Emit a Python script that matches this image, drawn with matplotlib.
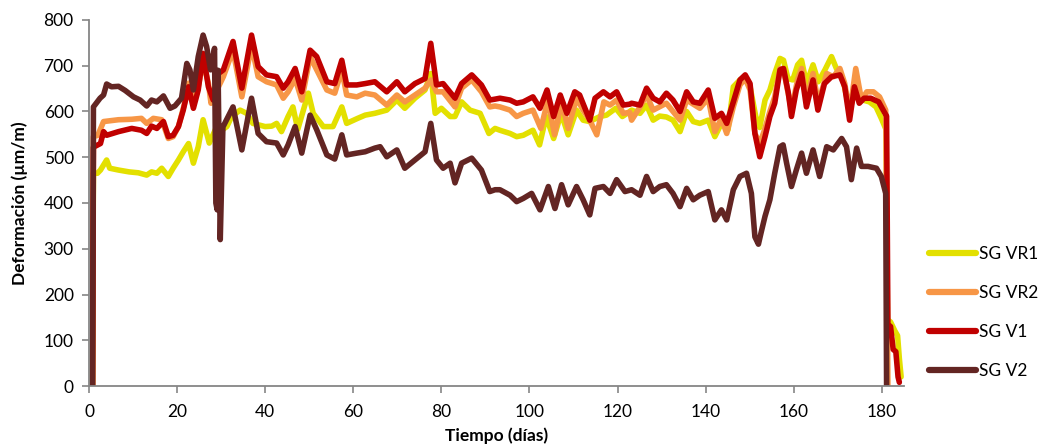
import matplotlib
matplotlib.use("Agg")
import matplotlib.pyplot as plt

plt.rcParams['font.family'] = ['Lato', 'DejaVu Sans']

# Strain gauge readings (µm/m) against time (days)
vr1_days = [0.8, 1.0, 1.9, 2.6, 4.0, 4.7, 6.7, 9.1, 11.2, 13.1, 14.2, 15.4, 16.5, 18.0, 19.1, 20.3,
            21.4, 22.6, 23.7, 24.8, 25.9, 27.3, 29.0, 30.1, 31.3, 32.4, 34.3, 35.8, 37.2, 40.0, 41.5,
            42.6, 43.7, 45.2, 46.3, 47.4, 49.8, 50.9, 53.2, 55.4, 57.4, 58.5, 61.0, 62.7, 64.9, 67.6,
            69.9, 71.7, 74.0, 76.3, 77.6, 78.6, 80.0, 82.0, 83.1, 84.6, 86.5, 88.8, 90.8, 92.2, 93.3,
            95.6, 97.1, 98.6, 100.8, 102.3, 103.8, 105.5, 107.2, 108.8, 110.7, 112.2, 113.7, 116.0,
            117.5, 119.6, 121.1, 122.5, 123.2, 125.1, 126.6, 128.1, 129.6, 131.1, 132.6, 134.2, 135.7,
            137.2, 138.7, 140.6, 142.1, 143.6, 145.1, 146.3, 147.8, 149.0, 150.1, 151.4, 152.3, 153.5,
            154.6, 155.7, 156.9, 157.7, 158.7, 159.8, 160.9, 161.8, 162.9, 164.4, 165.6, 167.1, 168.6,
            169.7, 171.2, 172.7, 174.2, 175.7, 177.2, 178.7, 179.9, 181.0, 181.3, 182.0, 183.0, 183.6,
            184.0, 184.4]
vr1_vals = [0, 465, 465, 472, 494, 476, 472, 468, 466, 461, 468, 465, 476, 458, 476, 494,
            512, 530, 487, 523, 582, 531, 567, 559, 567, 589, 603, 596, 574, 567, 568,
            574, 556, 589, 610, 561, 640, 596, 567, 567, 610, 574, 585, 592, 596, 603,
            625, 607, 629, 647, 683, 596, 607, 589, 589, 621, 603, 596, 552, 563, 559,
            552, 545, 548, 559, 527, 589, 541, 596, 549, 603, 581, 578, 589,
            592, 607, 589, 598, 603, 596, 614, 581, 590, 588, 581, 556, 600,
            578, 574, 581, 545, 574, 560, 654, 669, 676, 654, 589, 565, 625,
            647, 683, 716, 712, 672, 669, 702, 712, 661, 702, 665, 691, 720,
            694, 669, 603, 654, 625, 621, 610, 585, 560, 145, 140, 120, 110,
            60, 20]

vr2_days = [0.8, 1.0, 2.0, 3.3, 6.7, 9.7, 11.9, 13.1, 14.6, 16.5, 18.0, 19.1, 20.3, 21.7, 22.6,
            23.7, 24.8, 25.9, 27.1, 27.7, 28.5, 29.2, 30.5, 32.7, 34.7, 36.9, 38.4, 40.3, 42.6, 44.1,
            45.2, 46.8, 48.3, 50.2, 51.7, 54.0, 55.8, 57.4, 58.5, 60.8, 62.7, 64.9, 67.6, 69.9, 71.7,
            74.0, 76.3, 77.6, 78.9, 80.4, 83.1, 84.6, 86.9, 89.1, 91.0, 92.2, 93.3, 95.6, 97.1, 98.6,
            100.8, 102.6, 104.2, 105.7, 107.3, 108.8, 110.7, 112.2, 113.7, 115.3, 116.9, 118.3, 119.8,
            121.3, 122.8, 123.2, 125.1, 126.6, 128.1, 131.1, 134.2, 135.7, 138.7, 140.6, 142.1, 143.6,
            144.8, 146.3, 147.8, 149.0, 150.1, 151.2, 152.3, 153.4, 154.6, 155.7, 156.9, 157.7, 159.5,
            160.9, 161.8, 162.9, 164.4, 165.6, 167.5, 169.0, 170.5, 171.6, 172.7, 174.1, 175.4, 176.6,
            178.1, 179.5, 180.9, 181.4]
vr2_vals = [0, 545, 548, 578, 582, 583, 585, 574, 585, 582, 541, 545, 567, 618, 662,
            618, 654, 709, 662, 618, 650, 650, 676, 734, 632, 745, 676, 665, 658, 629,
            643, 672, 625, 720, 691, 647, 640, 691, 636, 632, 640, 636, 614, 636, 621,
            636, 651, 669, 643, 643, 610, 651, 669, 643, 610, 612, 610, 603, 589, 596,
            603, 563, 625, 549, 621, 563, 629, 603, 581, 549, 621, 614, 625,
            596, 598, 581, 610, 636, 603, 618, 581, 625, 607, 629, 556, 585,
            552, 610, 658, 672, 647, 552, 530, 560, 600, 632, 694, 691, 603,
            670, 694, 625, 683, 618, 683, 676, 694, 661, 596, 694, 625, 643,
            643, 632, 603, 0]

v1_days = [0.8, 1.0, 2.6, 3.3, 4.0, 6.7, 9.7, 11.9, 13.1, 14.2, 15.4, 16.9, 18.0, 19.1, 20.3,
           21.4, 22.6, 23.7, 24.8, 25.9, 27.1, 28.2, 29.4, 30.5, 32.7, 34.7, 36.9, 38.4, 40.3, 42.6,
           44.1, 45.2, 46.8, 48.3, 50.2, 51.7, 54.0, 55.8, 57.4, 58.5, 60.8, 62.7, 64.9, 67.6, 69.9,
           71.7, 74.0, 76.3, 77.6, 78.9, 80.4, 83.1, 84.6, 86.9, 89.1, 91.0, 92.2, 93.3, 95.6, 97.1,
           98.6, 100.8, 102.4, 104.0, 105.5, 107.0, 108.5, 110.3, 111.4, 113.7, 114.9, 116.8, 118.3,
           119.8, 121.3, 122.8, 123.2, 125.1, 126.6, 128.1, 129.6, 131.1, 132.6, 134.2, 135.7, 137.2,
           138.7, 140.6, 142.1, 143.6, 144.8, 146.3, 147.8, 149.0, 150.1, 151.2, 152.3, 153.5, 154.6,
           155.7, 156.9, 157.7, 158.8, 159.5, 160.6, 161.8, 162.9, 164.4, 165.5, 167.0, 168.6, 170.5,
           171.6, 172.7, 173.8, 174.9, 176.0, 177.5, 179.3, 180.5, 181.1, 181.4, 182.0, 182.6, 183.2,
           183.7, 184.0]
v1_vals = [0, 522, 530, 556, 548, 556, 563, 559, 552, 568, 563, 578, 545, 548, 567,
           603, 654, 607, 647, 727, 654, 625, 683, 691, 753, 651, 767, 698, 680, 676,
           651, 665, 694, 643, 734, 720, 665, 661, 712, 658, 658, 661, 665, 643, 665,
           643, 661, 672, 749, 658, 661, 629, 661, 680, 658, 625, 627, 629, 625, 618,
           621, 632, 607, 647, 589, 636, 596, 643, 636, 581, 629, 643, 632,
           643, 614, 616, 618, 614, 651, 629, 621, 640, 625, 600, 643, 621,
           618, 647, 585, 596, 574, 621, 669, 680, 661, 552, 501, 545, 589,
           618, 691, 694, 640, 589, 647, 683, 610, 669, 603, 661, 676, 680,
           654, 581, 654, 618, 629, 629, 621, 600, 590, 135, 130, 80, 75,
           20, 8]

v2_days = [0.8, 1.0, 2.5, 3.3, 4.0, 5.1, 6.7, 8.2, 10.1, 11.6, 13.1, 14.2, 15.4, 16.9, 18.4,
           19.5, 21.0, 22.2, 22.9, 23.7, 24.8, 25.9, 26.7, 27.6, 28.5, 28.8, 29.1, 29.3, 29.8, 30.4,
           32.7, 34.7, 36.9, 38.4, 40.3, 42.6, 44.1, 45.2, 46.8, 48.3, 50.2, 51.7, 54.0, 55.8, 57.4,
           58.5, 60.8, 62.7, 64.9, 66.1, 67.6, 69.9, 71.7, 74.0, 76.3, 77.6, 78.9, 80.4, 82.0, 83.1,
           84.6, 86.9, 89.1, 91.0, 92.2, 93.3, 95.6, 97.1, 98.6, 100.5, 102.4, 104.3, 105.8, 107.3,
           108.8, 110.7, 112.2, 113.7, 114.9, 116.8, 118.3, 119.8, 121.7, 123.2, 125.1, 126.6, 128.1,
           129.6, 131.1, 132.6, 134.2, 135.7, 137.2, 138.7, 140.6, 142.1, 143.6, 144.8, 146.3, 147.8,
           149.3, 150.4, 151.2, 152.0, 152.6, 153.5, 154.6, 155.7, 156.9, 157.6, 158.4, 159.5, 160.6,
           161.8, 162.9, 164.4, 165.9, 167.5, 169.0, 170.9, 172.0, 173.1, 174.3, 175.4, 176.9, 178.8,
           179.9, 180.9, 181.1]
v2_vals = [0, 610, 629, 636, 660, 654, 655, 646, 632, 625, 612, 625, 621, 634, 607,
           612, 629, 705, 691, 647, 720, 767, 742, 691, 738, 400, 385, 690, 320, 566,
           610, 516, 629, 552, 534, 531, 505, 527, 567, 509, 592, 560, 505, 496, 549,
           505, 509, 512, 520, 523, 501, 516, 476, 494, 512, 574, 494, 476, 487, 444,
           487, 498, 472, 425, 429, 429, 417, 403, 410, 421, 385, 436, 388, 440,
           396, 436, 407, 374, 432, 436, 421, 451, 425, 429, 417, 458, 425,
           436, 440, 421, 392, 432, 407, 417, 425, 363, 385, 363, 429, 458,
           465, 421, 326, 310, 335, 371, 407, 465, 523, 527, 487, 436, 472,
           509, 465, 516, 458, 523, 516, 541, 523, 451, 520, 480, 480, 476,
           458, 421, 0]

series_labels = ["SG VR1", "SG VR2", "SG V1", "SG V2"]
series_colors = ["#E3E000", "#F79646", "#C00000", "#632523"]

x_ticks = list(range(0, 181, 20))
y_ticks = list(range(0, 801, 100))

fig = plt.figure(figsize=(10.40, 4.44), dpi=100)
ax = fig.add_axes([0.0856, 0.1306, 0.7834, 0.8244])

series = [(vr1_days, vr1_vals), (vr2_days, vr2_vals), (v1_days, v1_vals), (v2_days, v2_vals)]
for (d, v), lab, col in zip(series, series_labels, series_colors):
    ax.plot(d, v, color=col, lw=4.0, label=lab, solid_joinstyle='round', solid_capstyle='round')

ax.set_xlim(0, 185)
ax.set_ylim(0, 800)
ax.set_xticks(x_ticks)
ax.set_yticks(y_ticks)

axis_gray = "#868686"
for side in ("top", "right"):
    ax.spines[side].set_visible(False)
for side in ("left", "bottom"):
    ax.spines[side].set_color(axis_gray)
    ax.spines[side].set_linewidth(1.3)
ax.tick_params(axis="both", direction="out", length=5, width=1.2, color=axis_gray,
               labelsize=12.5, labelcolor="#000000")
ax.tick_params(axis="x", pad=8)
ax.tick_params(axis="y", pad=6)

ax.set_xlabel("Tiempo (días)", fontsize=12.5, fontweight="bold", labelpad=5)
ax.set_ylabel("Deformación (µm/m)", fontsize=12.5, fontweight="bold", labelpad=11.5)

leg = ax.legend(loc="upper left", bbox_to_anchor=(0.893, 0.445), bbox_transform=fig.transFigure,
                frameon=False, fontsize=12.5, handlelength=2.7, handletextpad=0.2,
                labelspacing=1.32, borderpad=0, borderaxespad=0)
for line in leg.get_lines():
    line.set_linewidth(4.5)

fig.savefig("out.png", dpi=100)
